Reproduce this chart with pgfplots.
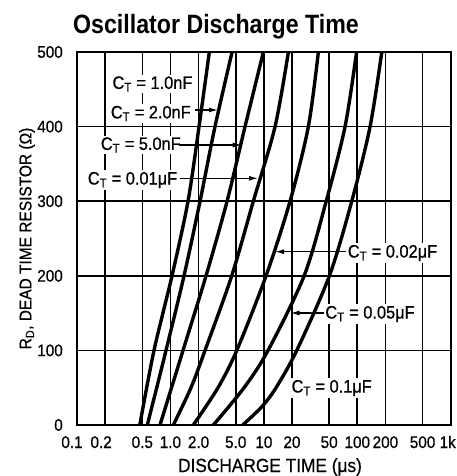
\documentclass[border=0pt]{standalone}
\usepackage{fontspec}
\setmainfont{Liberation Sans}[FakeStretch=0.91,FakeBold=0.6]
\newfontfamily\titlefont{Liberation Sans}[FakeStretch=0.875]
\usepackage{pgfplots}
\pgfplotsset{compat=1.18}
\usetikzlibrary{arrows.meta}
\newcommand\lbl{\fontsize{16.8}{20}\selectfont}
\newcommand\clbl{\fontsize{18}{20}\selectfont}
\begin{document}
\begin{tikzpicture}
\useasboundingbox (-77pt,-51pt) rectangle (379pt,425pt);
\begin{axis}[
  scale only axis, width=373.7pt, height=373pt,
  xmode=log, xmin=0.1, xmax=1000, ymin=0, ymax=500,
  xtick={0.1,0.2,0.5,1,2,5,10,20,50,100,200,500,1000},
  xticklabels={0.1\hspace*{10pt},0.2\hspace*{8pt},0.5,1.0,2.0,5.0,10,20,50,100,200,500,1k\hspace*{6pt}},
  ytick={0,100,200,300,400,500},
  yticklabels={0,100,200,300,400,500},
  xminorticks=false, yminorticks=false,
  major tick length=0pt,
  grid=major, major grid style={black, line width=1.6pt},
  axis line style={line width=2.4pt},
  tick label style={font=\lbl, inner sep=0pt},
  xticklabel style={anchor=base, yshift=-23pt},
  yticklabel style={anchor=east, xshift=-14pt},
]
% C_T = 1.0nF
\addplot[black, line width=3.4pt, smooth] coordinates {(0.47,0) (0.667,100) (1.04,200) (1.543,300) (2.024,400) (2.609,500)};
% C_T = 2.0nF
\addplot[black, line width=3.4pt, smooth] coordinates {(0.566,0) (0.897,100) (1.398,200) (2.075,300) (3.0,400) (4.57,500)};
% C_T = 5.0nF
\addplot[black, line width=3.4pt, smooth] coordinates {(0.774,0) (1.364,100) (2.405,200) (4.04,300) (6.29,400) (9.88,500)};
% C_T = 0.01uF
\addplot[black, line width=3.4pt, smooth] coordinates {(1.074,0) (1.66,50) (2.347,100) (4.53,200) (7.72,300) (13.18,400) (18.3,500)};
% C_T = 0.02uF
\addplot[black, line width=3.4pt, smooth] coordinates {(1.759,0) (3.23,50) (5.13,100) (10.56,200) (19.08,300) (29.95,400) (38.33,500)};
% C_T = 0.05uF
\addplot[black, line width=3.4pt, smooth] coordinates {(2.879,0) (6.14,50) (11.09,100) (27.0,200) (46.5,300) (74.0,400) (98.3,500)};
% C_T = 0.1uF
\addplot[black, line width=3.4pt, smooth] coordinates {(5.94,0) (9.6,25) (13.5,50) (22.5,100) (50.3,200) (87.3,300) (137.1,400) (183,500)};
\end{axis}
\node[anchor=base, font=\titlefont\bfseries\fontsize{26.5}{30}\selectfont] at (139pt,391pt) {Oscillator Discharge Time};
\node[rotate=90, font=\fontsize{17}{20}\selectfont] at (-50pt,186.5pt) {R\textsubscript{D}, DEAD TIME RESISTOR (Ω)};
\node[anchor=base, font=\fontsize{19}{22}\selectfont] at (193pt,-47pt) {DISCHARGE TIME (μs)};
\begin{scope}[every node/.style={font=\clbl, fill=white, inner sep=1.5pt}]
\node at (75.5pt,341pt) {C\textsubscript{T} = 1.0nF};
\node at (73.8pt,311.5pt) {C\textsubscript{T} = 2.0nF};
\node at (63.8pt,280pt) {C\textsubscript{T} = 5.0nF};
\node at (55.5pt,245pt) {C\textsubscript{T} = 0.01μF};
\node at (315.5pt,172pt) {C\textsubscript{T} = 0.02μF};
\node at (293pt,111pt) {C\textsubscript{T} = 0.05μF};
\node at (254.7pt,37pt) {C\textsubscript{T} = 0.1μF};
\end{scope}
\begin{scope}[line width=1.3pt, -{Latex[length=9pt,width=5pt]}]
\draw (118pt,315pt) -- (141pt,315pt);
\draw (102pt,280pt) -- (164.7pt,280pt);
\draw (103pt,246.7pt) -- (181pt,246.7pt);
\draw (269pt,173.3pt) -- (198pt,173.3pt);
\draw (247pt,112pt) -- (213.5pt,112pt);
\end{scope}
\end{tikzpicture}
\end{document}
